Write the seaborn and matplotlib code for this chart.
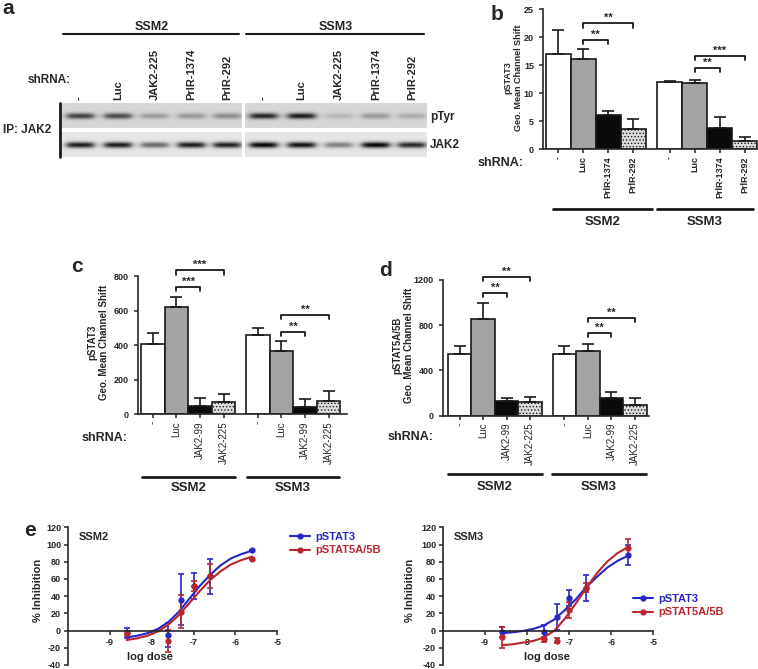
import numpy as np
import pandas as pd
import matplotlib
matplotlib.use("Agg")
import matplotlib.pyplot as plt
import seaborn as sns
from matplotlib.lines import Line2D

# ---------------- data ----------------
cell_lines = ["SSM2", "SSM3"]

# a: western blot band darkness (0 = none, 1 = black)
blot_lanes = ["-", "Luc", "JAK2-225", "PrlR-1374", "PrlR-292"]
ptyr_ssm2 = [0.72, 0.68, 0.28, 0.30, 0.36]
ptyr_ssm3 = [0.85, 0.90, 0.15, 0.30, 0.20]
jak2_ssm2 = [0.90, 0.90, 0.55, 0.90, 0.88]
jak2_ssm3 = [1.00, 0.95, 0.45, 1.00, 0.85]

# b: pSTAT3, PrlR knockdown
b_labels = ["-", "Luc", "PrlR-1374", "PrlR-292"]
b_mean = [17.0, 16.2, 6.1, 3.6, 12.1, 11.8, 3.75, 1.5]
b_err = [4.3, 1.8, 0.7, 1.8, 0.1, 0.6, 1.95, 0.75]
b_sig = [(1, 2, 19.6, "**"), (1, 3, 22.5, "**"), (5, 6, 14.5, "**"), (5, 7, 16.7, "***")]

# c: pSTAT3, JAK2 knockdown
cd_labels = ["-", "Luc", "JAK2-99", "JAK2-225"]
c_mean = [408, 620, 48, 73, 460, 367, 42, 77]
c_err = [62, 62, 44, 45, 38, 58, 46, 58]
c_sig = [(1, 2, 740, "***"), (1, 3, 836, "***"), (5, 6, 479, "**"), (5, 7, 576, "**")]

# d: pSTAT5A/5B, JAK2 knockdown
d_mean = [540, 850, 126, 118, 545, 570, 156, 97]
d_err = [72, 150, 32, 42, 67, 60, 54, 59]
d_sig = [(1, 2, 1085, "**"), (1, 3, 1227, "**"), (5, 6, 732, "**"), (5, 7, 867, "**")]

# e: dose response (% inhibition)
e_dose = [-8.6, -7.6, -7.3, -7.0, -6.6, -5.6]
ssm2_stat3 = [-3, -5, 36, 52, 63, 94]
ssm2_stat3_err = [6, 14, 30, 15, 20, 0]
ssm2_stat5 = [-3, -12, 22, 52, 63, 83]
ssm2_stat5_err = [3, 13, 19, 6, 14, 0]
ssm3_stat3 = [-2, -2, 16, 38, 49, 88]
ssm3_stat3_err = [6, 8, 15, 9, 15, 12]
ssm3_stat5 = [-8, -10, -12, 24, 50, 96]
ssm3_stat5_err = [12, 3, 3, 9, 5, 10]

curve_dose = [-8.6, -8.35, -8.1, -7.85, -7.6, -7.35, -7.1, -6.85, -6.6, -6.35, -6.1, -5.85, -5.6]
ssm2_stat3_fit = [-8, -6, -3, 2, 10, 22, 37, 52, 65, 76, 84, 89, 93]
ssm2_stat5_fit = [-11, -9, -6, -1, 7, 18, 32, 46, 59, 69, 77, 82, 86]
ssm3_stat3_fit = [-3, -2, -0.5, 2, 6, 13, 24, 36, 50, 62, 73, 81, 87]
ssm3_stat5_fit = [-17, -16, -14, -12, -8, 0, 14, 31, 49, 66, 80, 90, 97]

# ---------------- style ----------------
sns.set_style("ticks")
plt.rcParams["font.family"] = ["Liberation Sans", "DejaVu Sans"]
plt.rcParams["font.weight"] = "bold"
plt.rcParams["axes.unicode_minus"] = False
plt.rcParams["axes.linewidth"] = 1.2
plt.rcParams["hatch.linewidth"] = 0.6

BLUE = "#2626c8"
RED = "#b8262c"
INK = "#1a1a1a"
bar_colors = ["white", "#a3a3a6", "#0a0a0a", "#dcdcdc"]
bar_hatch = [None, None, None, "....."]

W, H = 758, 669
fig = plt.figure(figsize=(W / 100, H / 100), dpi=100)


def box(x0, y0, x1, y1):
    return fig.add_axes([x0 / W, 1 - y1 / H, (x1 - x0) / W, (y1 - y0) / H])


def ftext(x, y, s, **kw):
    kw.setdefault("fontweight", "bold")
    fig.text(x / W, 1 - y / H, s, **kw)


def fline(x0, x1, y, lw=1.8):
    fig.add_artist(Line2D([x0 / W, x1 / W], [1 - y / H] * 2, color=INK, lw=lw))


# ---------------- a: blot ----------------
lane_frac = [0.1, 0.31, 0.515, 0.72, 0.92]


def strip(ax, dark, bg):
    xs = np.linspace(0, 1, 180)
    ys = np.linspace(0, 1, 26)
    img = np.full((ys.size, xs.size), bg)
    yp = np.exp(-0.5 * ((ys - 0.52) / 0.085) ** 2)
    for c, v in zip(lane_frac, dark):
        xp = 1 / (1 + np.exp((np.abs(xs - c) - 0.075) / 0.012))
        img -= v * bg * np.outer(yp, xp)
    ax.imshow(img, cmap="gray", vmin=0, vmax=1, aspect="auto", interpolation="bilinear")
    ax.set_axis_off()


strips = [(62, 242, ptyr_ssm2, jak2_ssm2), (245, 427, ptyr_ssm3, jak2_ssm3)]
for (x0, x1, pt, jk), name in zip(strips, cell_lines):
    strip(box(x0, 103, x1, 128), pt, 0.84)
    strip(box(x0, 132, x1, 157), jk, 0.90)
    fline(x0 + 1, x1 - 3, 34, lw=1.5)
    ftext((x0 + x1) / 2, 27, name, fontsize=9, ha="center", va="center")
    for f, lab in zip(lane_frac, blot_lanes):
        ftext(x0 + f * (x1 - x0), 100, lab, fontsize=8, rotation=90, ha="center", va="bottom")

fig.add_artist(Line2D([60 / W] * 2, [1 - 103 / H, 1 - 157 / H], color=INK, lw=2))
ftext(28, 80, "shRNA:", fontsize=8.5, va="center")
ftext(3, 130, "IP: JAK2", fontsize=8.5, va="center")
ftext(430, 117, "pTyr", fontsize=8.5, va="center")
ftext(430, 145, "JAK2", fontsize=8.5, va="center")


# ---------------- b, c, d: bar charts ----------------
def bar_panel(ax, means, errs, labels, sig, ytop, ystep, ymax, xlim, xfs, xweight):
    pos = np.r_[np.arange(4), np.arange(4) + 4.45]
    df = pd.DataFrame({"pos": pos, "val": means})
    sns.barplot(data=df, x="pos", y="val", native_scale=True, width=1.0,
                color="white", edgecolor=INK, linewidth=1.2, errorbar=None, ax=ax)
    for p, c, h in zip(ax.patches, bar_colors * 2, bar_hatch * 2):
        p.set_facecolor(c)
        if h:
            p.set_hatch(h)
            if hasattr(p, "set_hatchcolor"):
                p.set_hatchcolor("#8c8c8c")
    ax.errorbar(pos, means, yerr=np.vstack([np.zeros(len(errs)), errs]), fmt="none",
                ecolor=INK, elinewidth=1.2, capsize=4, capthick=1.2, zorder=1)
    drop = ymax * 0.03
    for i, j, y, lab in sig:
        ax.plot([pos[i], pos[i], pos[j], pos[j]], [y - drop, y, y, y - drop],
                color=INK, lw=1.3, clip_on=False)
        ax.text((pos[i] + pos[j]) / 2, y, lab, ha="center", va="bottom",
                fontsize=8, fontweight="bold", clip_on=False)
    ax.set_xlim(*xlim)
    ax.set_ylim(0, ymax)
    ax.set_yticks(np.arange(0, ytop + 1, ystep))
    ax.set_xticks(pos)
    ax.set_xticklabels(labels * 2, rotation=90, fontsize=xfs, fontweight=xweight)
    ax.tick_params(axis="y", labelsize=6.5, length=3, width=1.1)
    ax.tick_params(axis="x", length=3, width=1.1, pad=2)
    for t in ax.get_yticklabels():
        t.set_fontweight("bold")
    ax.set_xlabel("")
    ax.set_ylabel("")
    sns.despine(ax=ax)
    ax.spines["left"].set_bounds(0, ytop)


ax_b = box(543, 149.3 - 26 * 5.6, 758, 149.3)
bar_panel(ax_b, b_mean, b_err, b_labels, b_sig, 25, 5, 26, (-0.61, 7.99), 6.5, "bold")
ax_c = box(138, 414.3 - 870 * 0.1725, 347, 414.3)
bar_panel(ax_c, c_mean, c_err, cd_labels, c_sig, 800, 200, 870, (-0.63, 8.23), 7, "normal")
ax_d = box(443, 415.5 - 1260 * 0.113, 649, 415.5)
bar_panel(ax_d, d_mean, d_err, cd_labels, d_sig, 1200, 400, 1260, (-0.71, 8.05), 7, "normal")

ylab = "Geo. Mean Channel Shift"
ftext(513, 78, "pSTAT3\n" + ylab, fontsize=6.5, rotation=90, ha="center", va="center")
ftext(98, 342, "pSTAT3\n" + ylab, fontsize=7, rotation=90, ha="center", va="center")
ftext(403, 345, "pSTAT5A/5B\n" + ylab, fontsize=7, rotation=90, ha="center", va="center")

groups = [
    (163, 478, 209, [(553, 652), (657, 753)], 222),
    (438, 82, 476.5, [(142, 235), (247, 339)], 488),
    (437, 388, 474, [(448, 542), (552, 646)], 487),
]
for sy, sx, ly, spans, ty in groups:
    ftext(sx, sy, "shRNA:", fontsize=9, va="center")
    for (x0, x1), name in zip(spans, cell_lines):
        fline(x0, x1, ly, lw=2)
        ftext((x0 + x1) / 2, ty, name, fontsize=9.5, ha="center", va="center")


# ---------------- e: dose response ----------------
def dose_panel(ax, s3, s3e, s5, s5e, f3, f5, title):
    for fit, mean, err, col in [(f3, s3, s3e, BLUE), (f5, s5, s5e, RED)]:
        sns.lineplot(x=curve_dose, y=fit, color=col, lw=1.5, ax=ax)
        ax.errorbar(e_dose, mean, yerr=err, fmt="o", ms=3.5, color=col,
                    elinewidth=1.2, capsize=2.5, capthick=1.2)
    ax.set_xlim(-10, -5)
    ax.set_ylim(-40, 120)
    ax.set_xticks([-9, -8, -7, -6, -5])
    ax.set_yticks(np.arange(-40, 121, 20))
    ax.spines["bottom"].set_position(("data", 0))
    sns.despine(ax=ax)
    ax.tick_params(labelsize=6.5, length=3, width=1.1, pad=2)
    for t in ax.get_xticklabels() + ax.get_yticklabels():
        t.set_fontweight("bold")
    ax.text(0.05, 0.93, title, transform=ax.transAxes, fontsize=8, fontweight="bold",
            va="center")


ax_e1 = box(68, 527.3, 277.3, 665)
dose_panel(ax_e1, ssm2_stat3, ssm2_stat3_err, ssm2_stat5, ssm2_stat5_err,
           ssm2_stat3_fit, ssm2_stat5_fit, "SSM2")
ax_e2 = box(443, 527.3, 653.3, 665)
dose_panel(ax_e2, ssm3_stat3, ssm3_stat3_err, ssm3_stat5, ssm3_stat5_err,
           ssm3_stat3_fit, ssm3_stat5_fit, "SSM3")

for x, ly in [(38, 150), (410, 547)]:
    ftext(x, 590, "% Inhibition", fontsize=8, rotation=90, ha="center", va="center")
    ftext(ly, 657, "log dose", fontsize=8, ha="center", va="center")

handles = [Line2D([], [], color=BLUE, marker="o", ms=3.5, lw=1.5),
           Line2D([], [], color=RED, marker="o", ms=3.5, lw=1.5)]
for bx, by in [(284, 526), (627, 588)]:
    leg = fig.legend(handles, ["pSTAT3", "pSTAT5A/5B"], loc="upper left",
                     bbox_to_anchor=(bx / W, 1 - by / H), frameon=False,
                     prop={"weight": "bold", "size": 8}, handlelength=1.8,
                     labelspacing=0.35, handletextpad=0.5, borderpad=0)
    for t, c in zip(leg.get_texts(), [BLUE, RED]):
        t.set_color(c)

# panel letters
for x, y, s in [(8, 9, "a"), (497, 14, "b"), (77, 267, "c"), (386, 271, "d"), (30, 530, "e")]:
    ftext(x, y, s, fontsize=15, ha="center", va="center")

fig.savefig("out.png", dpi=100)
